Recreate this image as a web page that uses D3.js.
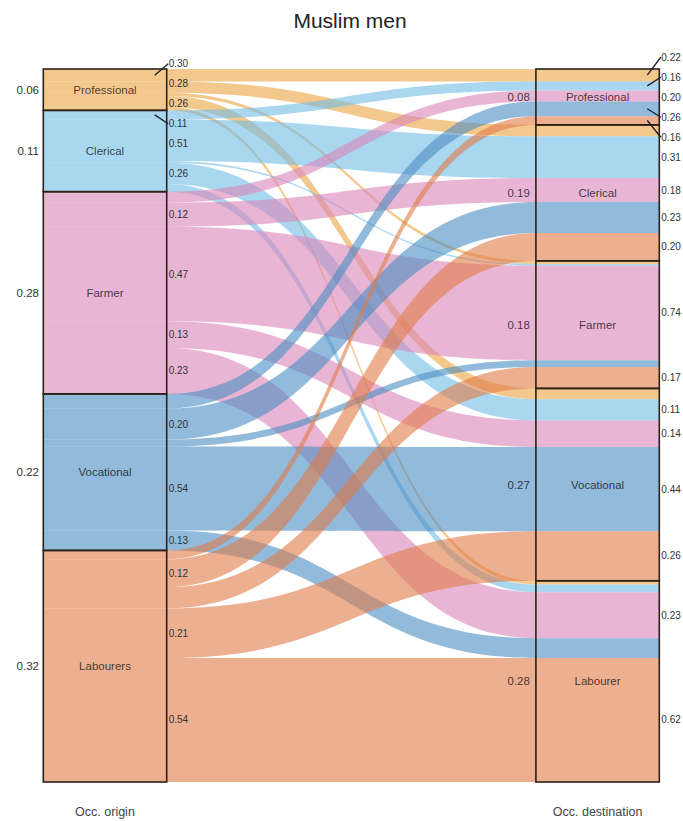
<!DOCTYPE html>
<html>
<head>
<meta charset="utf-8">
<script src="https://cdn.jsdelivr.net/npm/d3@7"></script>
<style>
  body { margin: 0; background: #fff; }
  text { font-family: "Liberation Sans", Arial, Helvetica, sans-serif; }
</style>
</head>
<body>
<svg id="chart" width="683" height="821"></svg>
<script>
// Occupations at origin and at destination
const originLabels = ["Professional", "Clerical", "Farmer", "Vocational", "Labourers"];
const destinationLabels = ["Professional", "Clerical", "Farmer", "Vocational", "Labourer"];
const axisLabels = ["Occ. origin", "Occ. destination"];

// Men per 1000 of the sample, moving from one origin occupation
// to each destination (same order as destinationLabels)
const fromProfessional = [17.4, 16.0, 4.32, 15.08, 5.2];
const fromClerical     = [12.64, 58.5, 2.22, 29.8, 10.84];
const fromFarmer       = [15.5, 33.6, 132.7, 37.3, 64.4];
const fromVocational   = [20.54, 43.5, 9.66, 118.0, 27.8];
const fromLabourers    = [12.3, 39.0, 29.96, 69.5, 173.9];

// Fill colour of each origin occupation (drawn translucent)
const occupationColors = ["#eba33f", "#71bce6", "#d985b7", "#498cc1", "#df7b48"];

const flows = [fromProfessional, fromClerical, fromFarmer, fromVocational, fromLabourers];
const total = d3.sum(flows.flat());
const originTotals = flows.map(r => d3.sum(r));
const destTotals = destinationLabels.map((_, j) => d3.sum(flows, r => r[j]));
const fmt = d3.format(".2f");
const showShare = 0.1;

const svg = d3.select("#chart");

const x = d3.scaleBand().domain(axisLabels).range([43.3, 659.3]).paddingInner(0.7495).paddingOuter(0);
const bw = x.bandwidth();
const y = d3.scaleLinear().domain([0, total]).range([69, 782]);

const xL0 = x(axisLabels[0]), xL1 = xL0 + bw;
const xR0 = x(axisLabels[1]), xR1 = xR0 + bw;
const xMid = (xL1 + xR0) / 2;

// Cumulative starts of each stratum
const originStart = originTotals.map((_, i) => d3.sum(originTotals.slice(0, i)));
const destStart = destTotals.map((_, j) => d3.sum(destTotals.slice(0, j)));

// Build every flow with its position in both stacks
const links = [];
flows.forEach((row, i) => {
  row.forEach((v, j) => {
    const ls = originStart[i] + d3.sum(row.slice(0, j));
    const rs = destStart[j] + d3.sum(flows.slice(0, i), r => r[j]);
    links.push({ i, j, v, ls, rs });
  });
});

// Alluvia
const flowPath = d => {
  const p = d3.path();
  const yl0 = y(d.ls), yl1 = y(d.ls + d.v);
  const yr0 = y(d.rs), yr1 = y(d.rs + d.v);
  p.moveTo(xL0, yl0);
  p.lineTo(xL1, yl0);
  p.bezierCurveTo(xMid, yl0, xMid, yr0, xR0, yr0);
  p.lineTo(xR1, yr0);
  p.lineTo(xR1, yr1);
  p.lineTo(xR0, yr1);
  p.bezierCurveTo(xMid, yr1, xMid, yl1, xL1, yl1);
  p.lineTo(xL0, yl1);
  p.closePath();
  return p.toString();
};

svg.append("g")
  .selectAll("path")
  .data(links.filter(d => d.v > 0))
  .join("path")
  .attr("d", flowPath)
  .attr("fill", d => occupationColors[d.i])
  .attr("fill-opacity", 0.6);

// Stratum names and destination shares, written in translucent black so they take the tint of the flow beneath
const over = svg.append("g").attr("fill", "#000").attr("fill-opacity", 0.72).attr("font-size", 11.5);
originLabels.forEach((name, i) => {
  over.append("text")
    .attr("x", xL0 + bw / 2)
    .attr("y", y(originStart[i] + originTotals[i] / 2))
    .attr("dy", "0.35em")
    .attr("text-anchor", "middle")
    .text(name);
});
destinationLabels.forEach((name, j) => {
  const cy = y(destStart[j] + destTotals[j] / 2);
  over.append("text")
    .attr("x", xR0 + bw / 2)
    .attr("y", cy)
    .attr("dy", "0.35em")
    .attr("text-anchor", "middle")
    .text(name);
  over.append("text")
    .attr("x", xR0 - 6)
    .attr("y", cy)
    .attr("dy", "0.35em")
    .attr("text-anchor", "end")
    .text(fmt(destTotals[j] / total));
});

// Strata outlines
const boxes = svg.append("g").attr("fill", "none").attr("stroke", "#2b2119").attr("stroke-width", 1.6);
originTotals.forEach((t, i) => {
  boxes.append("rect")
    .attr("x", xL0).attr("width", bw)
    .attr("y", y(originStart[i])).attr("height", y(originStart[i] + t) - y(originStart[i]));
});
destTotals.forEach((t, j) => {
  boxes.append("rect")
    .attr("x", xR0).attr("width", bw)
    .attr("y", y(destStart[j])).attr("height", y(destStart[j] + t) - y(destStart[j]));
});

// Origin shares left of the first axis
originTotals.forEach((t, i) => {
  svg.append("text")
    .attr("x", 39)
    .attr("y", y(originStart[i] + t / 2))
    .attr("dy", "0.35em")
    .attr("text-anchor", "end")
    .attr("font-size", 11.5)
    .attr("fill", "#333")
    .text(fmt(t / total));
});

// Spread labels vertically so they keep a minimum gap (pool adjacent violators)
function spread(items, gap) {
  items.sort((a, b) => a.cy - b.cy);
  const blocks = [];
  items.forEach((d, k) => {
    blocks.push({ start: k, n: 1, sum: d.cy - gap * k });
    while (blocks.length > 1) {
      const a = blocks[blocks.length - 2], c = blocks[blocks.length - 1];
      if (a.sum / a.n > c.sum / c.n) { a.n += c.n; a.sum += c.sum; blocks.pop(); }
      else break;
    }
  });
  blocks.forEach(b => {
    const m = b.sum / b.n;
    for (let k = b.start; k < b.start + b.n; k++) items[k].ly = m + gap * k;
  });
  return items;
}

const leftItems = links
  .filter(d => d.v / originTotals[d.i] >= showShare)
  .map(d => ({ cy: y(d.ls + d.v / 2), text: fmt(d.v / originTotals[d.i]) }));
const rightItems = links
  .filter(d => d.v / destTotals[d.j] >= showShare)
  .map(d => ({ cy: y(d.rs + d.v / 2), text: fmt(d.v / destTotals[d.j]) }));

spread(leftItems, 20);
spread(rightItems, 20);

function drawShareLabels(items, edge) {
  const g = svg.append("g");
  items.forEach(d => {
    if (Math.abs(d.ly - d.cy) > 4.5) {
      g.append("line")
        .attr("x1", edge - 12).attr("y1", d.cy)
        .attr("x2", edge + 1.5).attr("y2", d.ly)
        .attr("stroke", "#1d1d2a").attr("stroke-width", 1.3);
    }
    g.append("text")
      .attr("x", edge + 2)
      .attr("y", d.ly)
      .attr("dy", "0.35em")
      .attr("font-size", 10)
      .attr("fill", "#333")
      .text(d.text);
  });
}
drawShareLabels(leftItems, xL1);
drawShareLabels(rightItems, xR1);

// Axis titles
axisLabels.forEach(name => {
  svg.append("text")
    .attr("x", x(name) + bw / 2)
    .attr("y", 816)
    .attr("text-anchor", "middle")
    .attr("font-size", 12.5)
    .attr("fill", "#444")
    .text(name);
});

// Title
svg.append("text")
  .attr("x", 350)
  .attr("y", 28)
  .attr("text-anchor", "middle")
  .attr("font-size", 21)
  .attr("fill", "#222")
  .text("Muslim men");
</script>
</body>
</html>
